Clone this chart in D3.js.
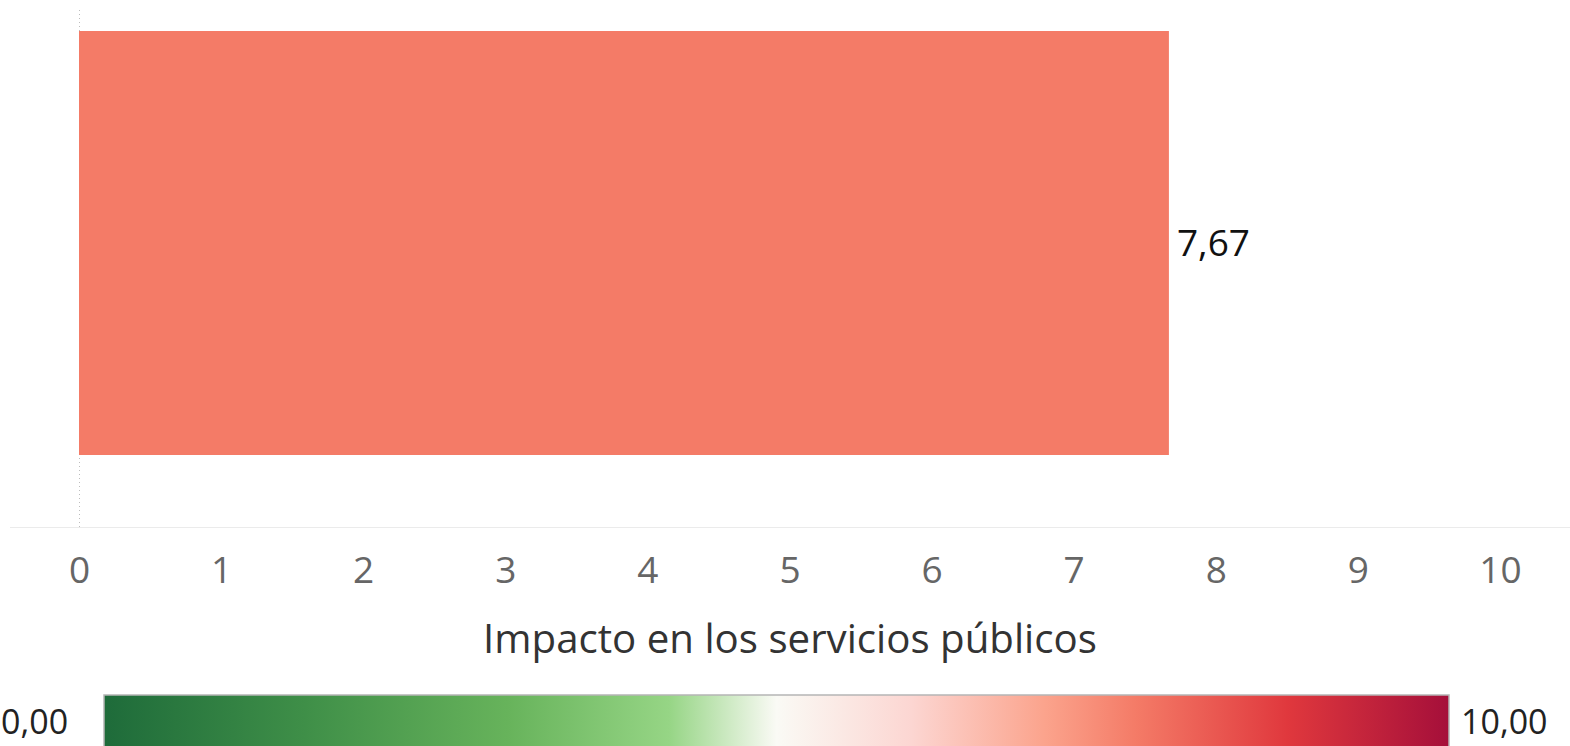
<!DOCTYPE html>
<html><head><meta charset="utf-8">
<script src="https://cdn.jsdelivr.net/npm/d3@7"></script>
<style>
html,body{margin:0;padding:0;background:#fff;overflow:hidden}
svg{display:block;font-family:"Open Sans","Noto Sans",sans-serif}
</style></head>
<body>
<svg id="chart" width="1570" height="746"></svg>
<script>
// ---- data ----
const categories = ["Impacto en los servicios públicos"];
const values = [7.67];
const valueLabels = ["7,67"];
const tickValues = [0,1,2,3,4,5,6,7,8,9,10];
const axisTitle = "Impacto en los servicios públicos";
const legendMin = 0, legendMax = 10;
const legendLabels = ["0,00","10,00"];
const legendStops = [0,0.15,0.3,0.42,0.5,0.6,0.7,0.767,0.88,1];
const legendColors = ["#1e6b3a","#3f8f48","#67b35b","#96d585","#fafaf5","#fcd6d2","#fba38c","#f47b67","#e0383d","#a50f3a"];

const svg = d3.select("#chart");
const W = 1570, H = 746;

const x = d3.scaleLinear().domain([0,10]).range([79,1500]);
const y = d3.scaleBand().domain(categories).range([31,455]).padding(0);
const color = d3.scaleLinear()
  .domain(legendStops.map(s => legendMin + s*(legendMax-legendMin)))
  .range(legendColors).interpolate(d3.interpolateRgb);

const axisY = 527;

// horizontal axis baseline
svg.append("line").attr("x1",10).attr("x2",W).attr("y1",axisY+0.5).attr("y2",axisY+0.5)
  .attr("stroke","#ebebeb").attr("stroke-width",1);

// zero line (dotted)
svg.append("line").attr("x1",x(0)+0.5).attr("x2",x(0)+0.5).attr("y1",10).attr("y2",axisY)
  .attr("stroke","#bdbdbd").attr("stroke-width",1).attr("stroke-dasharray","1,3");

// bars
svg.selectAll("rect.bar").data(values).join("rect").attr("class","bar")
  .attr("x",x(0)).attr("y",(d,i)=>y(categories[i]))
  .attr("width",d=>x(d)-x(0)).attr("height",y.bandwidth())
  .attr("fill",d=>color(d));

// value labels
svg.selectAll("text.val").data(values).join("text").attr("class","val")
  .attr("x",d=>x(d)+8).attr("y",(d,i)=>y(categories[i])+y.bandwidth()/2+13)
  .attr("font-size",37).attr("fill","#111")
  .text((d,i)=>valueLabels[i]);

// x axis
const axis = d3.axisBottom(x).tickValues(tickValues).tickSize(0).tickPadding(0).tickFormat(d3.format("d"));
const gAx = svg.append("g").attr("transform",`translate(0,${axisY})`).call(axis);
gAx.select(".domain").remove();
gAx.selectAll("text").attr("font-size",37).attr("fill","#666")
  .attr("font-family","'Open Sans','Noto Sans',sans-serif")
  .attr("dy",null).attr("y",56);

// axis title
const title = svg.append("text").attr("x",790).attr("y",653).attr("text-anchor","middle")
  .attr("font-size",37).attr("fill","#333").text(axisTitle);
const tw = title.node().getComputedTextLength();
title.attr("font-size",37*614/tw);

// legend
const lx0 = 104, lx1 = 1449, ly0 = 695, ly1 = 760;
const defs = svg.append("defs");
const grad = defs.append("linearGradient").attr("id","lg").attr("x1","0%").attr("x2","100%");
grad.selectAll("stop").data(legendStops).join("stop")
  .attr("offset",d=>(d*100)+"%").attr("stop-color",(d,i)=>legendColors[i]);
svg.append("rect").attr("x",lx0).attr("y",ly0).attr("width",lx1-lx0).attr("height",ly1-ly0)
  .attr("fill","url(#lg)").attr("stroke","#b5b5b5").attr("stroke-width",1.5);
svg.append("text").attr("x",1).attr("y",734).attr("font-size",34).attr("fill","#222").text(legendLabels[0]);
svg.append("text").attr("x",1461).attr("y",734).attr("font-size",34).attr("fill","#222").text(legendLabels[1]);
</script>
</body></html>
